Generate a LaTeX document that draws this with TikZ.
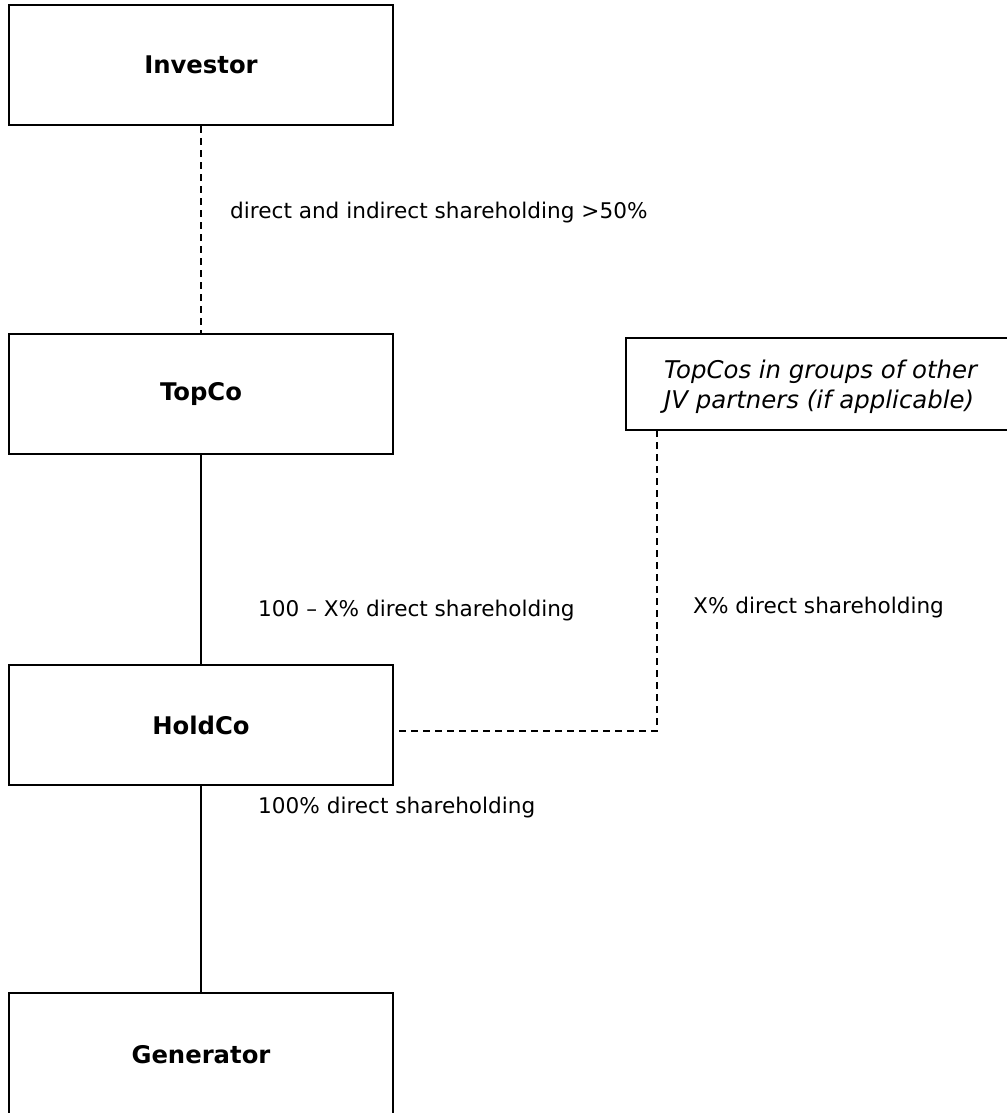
\documentclass[tikz,border=0pt]{standalone}
\usepackage{fontspec}
\setmainfont{DejaVu Sans}
\begin{document}
\begin{tikzpicture}[x=1pt,y=1pt,
  entity/.style={draw=black,line width=2pt,rectangle,minimum width=384pt,minimum height=120pt,inner sep=0pt,
    font=\fontsize{24.3}{28}\selectfont\bfseries},
  lbl/.style={anchor=west,inner sep=0pt,font=\fontsize{21.6}{25}\selectfont},
  solidline/.style={line width=1.5pt},
  dashline/.style={line width=1.5pt,dash pattern=on 7pt off 5pt}]
\useasboundingbox (0,0) rectangle (1006,-1113);
\node[entity] (inv) at (201,-65) {Investor};
\node[entity] (top) at (201,-394) {TopCo};
\node[entity] (hold) at (201,-725) {HoldCo};
\node[entity,minimum height=124pt] (gen) at (201,-1055) {Generator};
\node[draw=black,line width=2pt,rectangle,minimum width=384pt,minimum height=92pt,inner sep=0pt] (jv) at (818,-384) {};
\node[anchor=west,inner sep=0pt,align=left,font=\fontsize{24.4}{30}\selectfont\itshape] (jvt) at (664,-387) {TopCos in groups of other\\JV partners (if applicable)};
\draw[dashline] (inv.south) -- (top.north);
\draw[solidline] (top.south) -- (hold.north);
\draw[solidline] (hold.south) -- (gen.north);
\draw[dashline] ([xshift=5pt,yshift=-6pt]hold.east) -| ([xshift=32pt]jv.south west);
\node[lbl] (l1) at (230,-213) {direct and indirect shareholding >50\%};
\node[lbl] (l2) at (258,-611) {100 – X\% direct shareholding};
\node[lbl] (l3) at (693,-608) {X\% direct shareholding};
\node[lbl] (l4) at (258,-808) {100\% direct shareholding};
\end{tikzpicture}
\end{document}
